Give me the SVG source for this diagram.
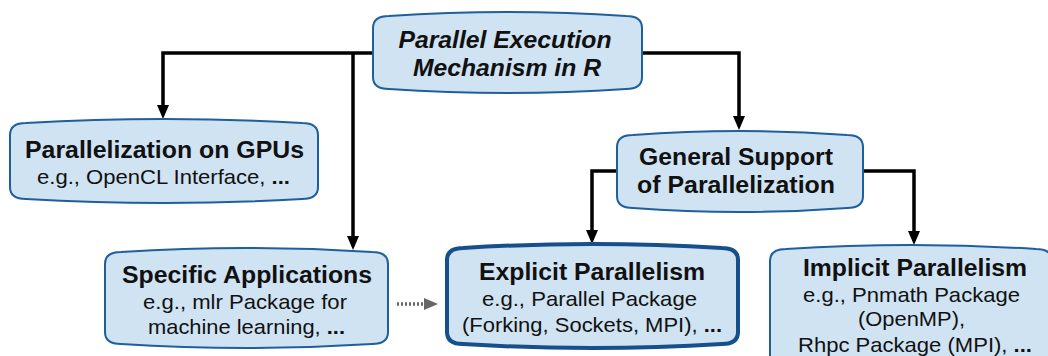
<svg xmlns="http://www.w3.org/2000/svg" width="1048" height="356" viewBox="0 0 1048 356">
  <style>
    .box { fill: #cfe3f3; stroke: #1f5f9c; stroke-width: 2; }
    .box.strong { stroke: #164f8c; stroke-width: 4; }
    .t { font-family: "Liberation Sans", Arial, sans-serif; fill: #111; text-anchor: middle; }
    .h { font-size: 23px; font-weight: bold; }
    .hi { font-size: 23px; font-weight: bold; font-style: italic; }
    .s { font-size: 21px; }
    .b { font-weight: bold; }
    .wire { fill: none; stroke: #000; stroke-width: 3.5; }
    .dots { fill: none; stroke: #666; stroke-width: 3.5; stroke-dasharray: 2 2; }
  </style>
  <defs>
    <marker id="arr" markerUnits="userSpaceOnUse" viewBox="0 0 14 12" markerWidth="14" markerHeight="12" refX="10" refY="6" orient="auto">
      <path d="M0,0 L14,6 L0,12 Z" fill="#000"/>
    </marker>
    <marker id="arrGrey" markerUnits="userSpaceOnUse" viewBox="0 0 14 12" markerWidth="14" markerHeight="12" refX="10" refY="6" orient="auto">
      <path d="M0,0 L14,6 L0,12 Z" fill="#666"/>
    </marker>
  </defs>

  <!-- connectors -->
  <g id="connectors">
    <path class="wire" d="M374,53 H163 V115" marker-end="url(#arr)"/>
    <path class="wire" d="M353,53 V246" marker-end="url(#arr)"/>
    <path class="wire" d="M641,53 H739 V126" marker-end="url(#arr)"/>
    <path class="wire" d="M618,171 H592 V240" marker-end="url(#arr)"/>
    <path class="wire" d="M862,171 H914 V241" marker-end="url(#arr)"/>
    <path class="dots" d="M397,304 H434" marker-end="url(#arrGrey)"/>
  </g>

  <!-- root -->
  <g id="node-root">
    <path class="box" d="M373,28 Q373,16 389,16 Q507.5,8 626,16 Q642,16 642,28 L642,77 Q642,89 626,89 Q507.5,97 389,89 Q373,89 373,77 Z"/>
    <text class="t hi" x="505" y="48" textLength="213" lengthAdjust="spacingAndGlyphs">Parallel Execution</text>
    <text class="t hi" x="507" y="76" textLength="188" lengthAdjust="spacingAndGlyphs">Mechanism in R</text>
  </g>

  <!-- GPU -->
  <g id="node-gpu">
    <path class="box" d="M10,135 Q10,123 26,123 Q164,115 302,123 Q318,123 318,135 L318,187 Q318,199 302,199 Q164,207 26,199 Q10,199 10,187 Z"/>
    <text class="t h" x="164.5" y="158" textLength="279" lengthAdjust="spacingAndGlyphs">Parallelization on GPUs</text>
    <text class="t s" x="163.5" y="184" textLength="253" lengthAdjust="spacingAndGlyphs">e.g., OpenCL Interface, <tspan class="b">...</tspan></text>
  </g>

  <!-- general support -->
  <g id="node-general">
    <path class="box" d="M617,147 Q617,135 633,135 Q740,127 847,135 Q863,135 863,147 L863,196 Q863,208 847,208 Q740,216 633,208 Q617,208 617,196 Z"/>
    <text class="t h" x="736" y="165" textLength="194" lengthAdjust="spacingAndGlyphs">General Support</text>
    <text class="t h" x="736" y="193" textLength="198" lengthAdjust="spacingAndGlyphs">of Parallelization</text>
  </g>

  <!-- specific applications -->
  <g id="node-specific">
    <path class="box" d="M105,264 Q105,252 121,252 Q246.5,244 372,252 Q388,252 388,264 L388,332 Q388,344 372,344 Q246.5,352 121,344 Q105,344 105,332 Z"/>
    <text class="t h" x="247" y="283" textLength="250" lengthAdjust="spacingAndGlyphs">Specific Applications</text>
    <text class="t s" x="245" y="309" textLength="204" lengthAdjust="spacingAndGlyphs">e.g., mlr Package for</text>
    <text class="t s" x="246.5" y="334" textLength="197" lengthAdjust="spacingAndGlyphs">machine learning, <tspan class="b">...</tspan></text>
  </g>

  <!-- explicit -->
  <g id="node-explicit">
    <path class="box strong" d="M447,260 Q447,248 463,248 Q592.5,240 722,248 Q738,248 738,260 L738,332 Q738,344 722,344 Q592.5,352 463,344 Q447,344 447,332 Z"/>
    <text class="t h" x="592" y="280" textLength="226" lengthAdjust="spacingAndGlyphs">Explicit Parallelism</text>
    <text class="t s" x="589.5" y="306" textLength="215" lengthAdjust="spacingAndGlyphs">e.g., Parallel Package</text>
    <text class="t s" x="592" y="332" textLength="260" lengthAdjust="spacingAndGlyphs">(Forking, Sockets, MPI), <tspan class="b">...</tspan></text>
  </g>

  <!-- implicit -->
  <g id="node-implicit">
    <path class="box" d="M770,261 Q770,249 786,249 Q911,241 1036,249 Q1052,249 1052,261 L1052,360 Q1052,372 1036,372 Q911,380 786,372 Q770,372 770,360 Z"/>
    <text class="t h" x="915" y="276" textLength="224" lengthAdjust="spacingAndGlyphs">Implicit Parallelism</text>
    <text class="t s" x="911.5" y="302" textLength="217" lengthAdjust="spacingAndGlyphs">e.g., Pnmath Package</text>
    <text class="t s" x="911.5" y="326" textLength="107" lengthAdjust="spacingAndGlyphs">(OpenMP),</text>
    <text class="t s" x="915" y="352" textLength="234" lengthAdjust="spacingAndGlyphs">Rhpc Package (MPI), <tspan class="b">...</tspan></text>
  </g>
</svg>
